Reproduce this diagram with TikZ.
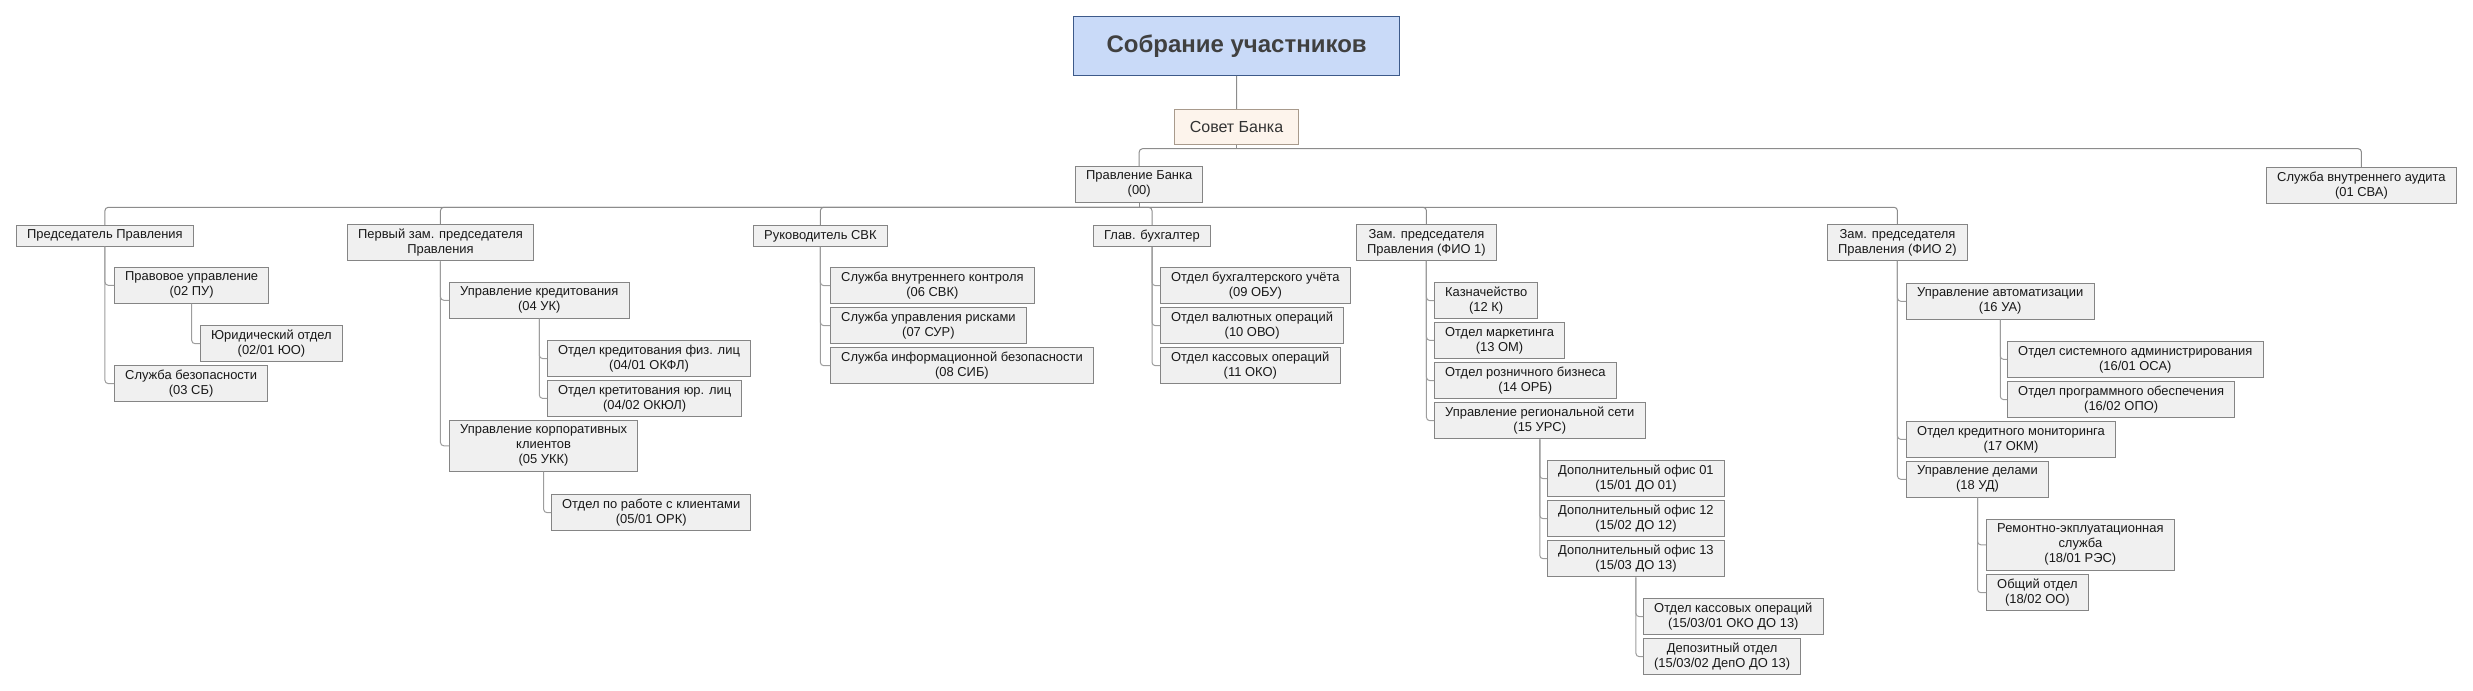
\documentclass[tikz,border=0pt]{standalone}
\usepackage{fontspec}
\setmainfont{Liberation Sans}
\definecolor{asmfill}{HTML}{C9DAF8}
\definecolor{asmline}{HTML}{3D5A8A}
\definecolor{cnfill}{HTML}{FDF4EC}
\definecolor{cnline}{HTML}{A89A8C}
\definecolor{dpfill}{HTML}{F0F0F0}
\definecolor{dpline}{HTML}{858585}
\definecolor{lnk}{HTML}{8C8C8C}
\begin{document}
\begin{tikzpicture}[x=0.75pt,y=-0.75pt,
  assembly/.style={draw=asmline,fill=asmfill,line width=0.9pt,minimum width=244.5pt,minimum height=44pt,anchor=north west,text=black!75,font=\fontsize{18}{21}\selectfont\bfseries},
  council/.style={draw=cnline,fill=cnfill,line width=0.75pt,minimum width=93pt,minimum height=26pt,anchor=north west,text=black!80,font=\fontsize{12}{14}\selectfont},
  dept/.style={draw=dpline,fill=dpfill,line width=0.75pt,anchor=north west,align=center,inner xsep=8pt,inner ysep=3.4pt,text=black!90,font=\fontsize{9.7}{11.25}\selectfont},
  trunk/.style={draw=lnk,line width=0.75pt,rounded corners=2.5pt},
  branch/.style={draw=lnk!85,line width=0.75pt,rounded corners=2.5pt}]
\useasboundingbox (0,0) rectangle (2473,691);
\node[assembly](sobr)at(1073,16){Собрание участников};
\node[council](sovet)at(1174,109){Совет Банка};
\node[dept](pravl)at(1075,166){Правление Банка\\(00)};
\node[dept](sva)at(2266,167){Служба внутреннего аудита\\(01 СВА)};
\node[dept](pred)at(16,225){Председатель Правления};
\node[dept](pu)at(114,267){Правовое управление\\(02 ПУ)};
\node[dept](juo)at(200,325){Юридический отдел\\(02/01 ЮО)};
\node[dept](sb)at(114,365){Служба безопасности\\(03 СБ)};
\node[dept](perv)at(347,224){Первый зам. председателя\\Правления};
\node[dept](uk)at(449,282){Управление кредитования\\(04 УК)};
\node[dept](okfl)at(547,340){Отдел кредитования физ. лиц\\(04/01 ОКФЛ)};
\node[dept](okul)at(547,380){Отдел кретитования юр. лиц\\(04/02 ОКЮЛ)};
\node[dept](ukk)at(449,420){Управление корпоративных\\клиентов\\(05 УКК)};
\node[dept](ork)at(551,494){Отдел по работе с клиентами\\(05/01 ОРК)};
\node[dept](rsvk)at(753,225){Руководитель СВК};
\node[dept](svk)at(830,267){Служба внутреннего контроля\\(06 СВК)};
\node[dept](sur)at(830,307){Служба управления рисками\\(07 СУР)};
\node[dept](sib)at(830,347){Служба информационной безопасности\\(08 СИБ)};
\node[dept](glb)at(1093,225){Глав. бухгалтер};
\node[dept](obu)at(1160,267){Отдел бухгалтерского учёта\\(09 ОБУ)};
\node[dept](ovo)at(1160,307){Отдел валютных операций\\(10 ОВО)};
\node[dept](oko)at(1160,347){Отдел кассовых операций\\(11 ОКО)};
\node[dept](fio1)at(1356,224){Зам. председателя\\Правления (ФИО 1)};
\node[dept](kazn)at(1434,282){Казначейство\\(12 К)};
\node[dept](om)at(1434,322){Отдел маркетинга\\(13 ОМ)};
\node[dept](orb)at(1434,362){Отдел розничного бизнеса\\(14 ОРБ)};
\node[dept](urs)at(1434,402){Управление региональной сети\\(15 УРС)};
\node[dept](do01)at(1547,460){Дополнительный офис 01\\(15/01 ДО 01)};
\node[dept](do12)at(1547,500){Дополнительный офис 12\\(15/02 ДО 12)};
\node[dept](do13)at(1547,540){Дополнительный офис 13\\(15/03 ДО 13)};
\node[dept](okodo)at(1643,598){Отдел кассовых операций\\(15/03/01 ОКО ДО 13)};
\node[dept](depo)at(1643,638){Депозитный отдел\\(15/03/02 ДепО ДО 13)};
\node[dept](fio2)at(1827,224){Зам. председателя\\Правления (ФИО 2)};
\node[dept](ua)at(1906,283){Управление автоматизации\\(16 УА)};
\node[dept](osa)at(2007,341){Отдел системного администрирования\\(16/01 ОСА)};
\node[dept](opo)at(2007,381){Отдел программного обеспечения\\(16/02 ОПО)};
\node[dept](okm)at(1906,421){Отдел кредитного мониторинга\\(17 ОКМ)};
\node[dept](ud)at(1906,461){Управление делами\\(18 УД)};
\node[dept](res)at(1986,519){Ремонтно-экплуатационная\\служба\\(18/01 РЭС)};
\node[dept](oo)at(1986,574){Общий отдел\\(18/02 ОО)};
\coordinate(b0)at([yshift=-3pt]sovet.south);
\coordinate(b1)at([yshift=-3.5pt]pravl.south);
\draw[trunk](sobr)--(sovet);
\draw[trunk](sovet.south)--(b0);
\draw[trunk](b0)-|(pravl.north);
\draw[trunk](b0)-|(sva.north);
\draw[trunk](pravl.south)--(b1);
\foreach \n in {pred,perv,rsvk,glb,fio1,fio2}
  \draw[trunk](b1)-|(\n.north);
\foreach \p/\c in {pred/pu,pu/juo,pred/sb,perv/uk,uk/okfl,uk/okul,perv/ukk,ukk/ork,
  rsvk/svk,rsvk/sur,rsvk/sib,glb/obu,glb/ovo,glb/oko,fio1/kazn,fio1/om,fio1/orb,fio1/urs,
  urs/do01,urs/do12,urs/do13,do13/okodo,do13/depo,fio2/ua,ua/osa,ua/opo,fio2/okm,fio2/ud,ud/res,ud/oo}
  \draw[branch](\p.south)|-(\c.west);
\end{tikzpicture}
\end{document}
